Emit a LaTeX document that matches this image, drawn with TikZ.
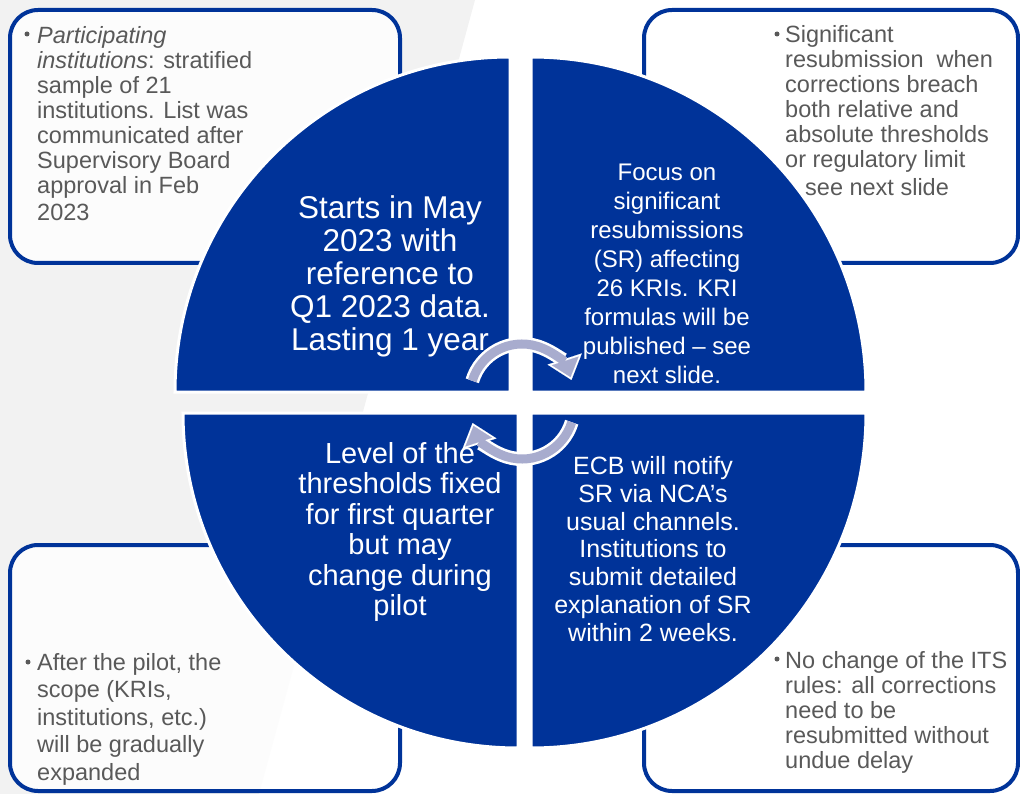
\documentclass[tikz,border=0pt]{standalone}
\usepackage{fontspec}
\setmainfont{Liberation Sans}
\usetikzlibrary{arrows.meta}
\definecolor{ecbblue}{RGB}{0,51,153}
\definecolor{notegray}{RGB}{89,89,89}
\definecolor{cyclav}{RGB}{168,172,206}
\begin{document}
\begin{tikzpicture}[x=1pt, y=-1pt,
  quad/.style={fill=ecbblue, draw=white, line width=3pt},
  notebox/.style={draw=ecbblue, fill=white, fill opacity=0.8, line width=4pt, rounded corners=28pt},
  note/.style={anchor=north west, inner sep=0pt, align=left, text=notegray, font=\fontsize{23.5}{25}\selectfont},
  bul/.style={circle, fill=notegray, inner sep=0pt, minimum size=5pt},
  quadtext/.style={inner sep=0pt, align=center, text=white},
  cycback/.style={draw=white, line width=14pt, -{Triangle[width=36pt, length=22pt, line width=0.1pt]}},
  cycfront/.style={draw=cyclav, line width=9pt, shorten >=3pt, -{Triangle[width=28pt, length=17pt, line width=0.1pt]}}]

  \useasboundingbox (0,0) rectangle (1020,794);
  \clip (0,0) rectangle (1020,794);

  % Background
  \fill[black!5] (0,0) -- (475,0) -- (259,794) -- (0,794) -- cycle;

  % Note boxes
  \draw[notebox] (10,10) rectangle (400,263);
  \draw[notebox] (644,10) rectangle (1018,263);
  \draw[notebox] (10,545) rectangle (400,791);
  \draw[notebox] (644,545) rectangle (1018,791);

  % Quadrants
  \draw[quad] (510,392) -- ++(-335,0) arc[start angle=180, end angle=270, radius=335] -- cycle;
  \draw[quad] (531,392) -- ++(335,0) arc[start angle=0, end angle=-90, radius=335] -- cycle;
  \draw[quad] (518,413) -- ++(-335,0) arc[start angle=180, end angle=90, radius=335] -- cycle;
  \draw[quad] (531,413) -- ++(335,0) arc[start angle=0, end angle=90, radius=335] -- cycle;

  % Quadrant texts
  \node[quadtext, font=\fontsize{31.5}{33}\selectfont] (startq) at (390,276)
    {Starts in May\\2023 with\\reference to\\Q1 2023 data.\\Lasting 1 year};
  \node[quadtext, font=\fontsize{24}{29}\selectfont] (focusq) at (667,274)
    {Focus on\\significant\\resubmissions\\(SR) affecting\\26 KRIs. KRI\\formulas will be\\published – see\\next slide.};
  \node[quadtext, font=\fontsize{29}{30.5}\selectfont] (levelq) at (400,532)
    {Level of the\\thresholds fixed\\for first quarter\\but may\\change during\\pilot};
  \node[quadtext, font=\fontsize{25}{27.7}\selectfont] (ecbq) at (653,549)
    {ECB will notify\\SR via NCA’s\\usual channels.\\Institutions to\\submit detailed\\explanation of SR\\within 2 weeks.};

  % Cycle arrows
  \coordinate (topc) at (522,396);
  \coordinate (botc) at (522,407);
  \draw[cycback] ([shift={(-163:52)}]topc) arc[start angle=-163, end angle=-18, radius=52];
  \draw[cycfront] ([shift={(-163:52)}]topc) arc[start angle=-163, end angle=-18, radius=52];
  \draw[cycback] ([shift={(17:52)}]botc) arc[start angle=17, end angle=162, radius=52];
  \draw[cycfront] ([shift={(17:52)}]botc) arc[start angle=17, end angle=162, radius=52];

  % Notes
  \node[note] (partnote) at (37,26)
    {\textit{Participating}\\\textit{institutions}: stratified\\sample of 21\\institutions. List was\\communicated after\\Supervisory Board\\approval in Feb\\[2pt]2023};
  \node[note] (signote) at (785,25)
    {Significant\\resubmission\ \ when\\corrections breach\\both relative and\\absolute thresholds\\or regulatory limit\\[3pt]\hspace*{20pt}see next slide};
  \node[note, font=\fontsize{23.5}{27.5}\selectfont] (afternote) at (37,653)
    {After the pilot, the\\scope (KRIs,\\institutions, etc.)\\will be gradually\\expanded};
  \node[note] (itsnote) at (785,651)
    {No change of the ITS\\rules: all corrections\\need to be\\resubmitted without\\undue delay};

  % Bullets
  \node[bul] (partdot) at (27,34) {};
  \node[bul] (sigdot) at (777,34) {};
  \node[bul] (afterdot) at (28,662) {};
  \node[bul] (itsdot) at (777,659) {};

\end{tikzpicture}
\end{document}
